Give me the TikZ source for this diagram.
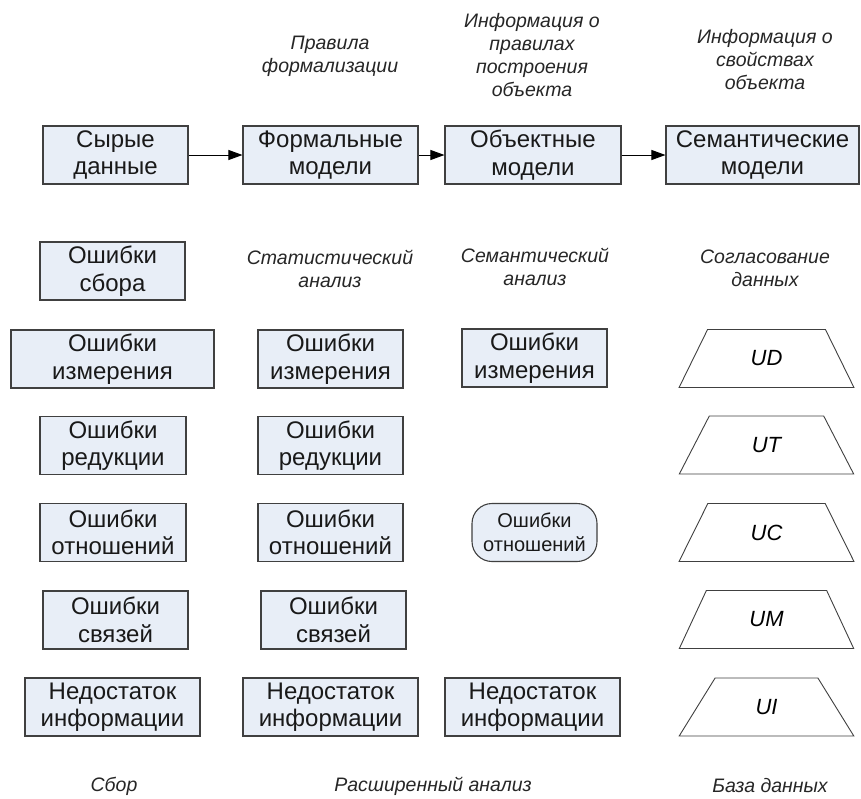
\documentclass[tikz,border=0pt]{standalone}
\usepackage{fontspec}
\setmainfont{Liberation Sans}
\usetikzlibrary{shapes.geometric,arrows.meta}
\definecolor{boxfill}{HTML}{E8EEF7}
\definecolor{boxline}{HTML}{404040}
\tikzset{
  blk/.style={draw=boxline, line width=1.1pt, fill=boxfill, rectangle, minimum height=58pt, inner sep=0pt, align=center, font=\fontsize{24}{27.5}\selectfont, text=black!90},
  rblk/.style={blk, rounded corners=20pt, font=\fontsize{20}{24}\selectfont},
  trap/.style={draw=boxline, line width=0.9pt, fill=white, trapezium, trapezium stretches=true, trapezium left angle=63.4, trapezium right angle=63.4, minimum width=175pt, minimum height=58pt, inner sep=0pt, font=\itshape\fontsize{22}{26}\selectfont},
  lbl/.style={align=center, inner sep=0pt, font=\itshape\fontsize{19.5}{23}\selectfont, text=black!85},
  arr/.style={draw=black, line width=0.9pt, -{Triangle[length=14pt,width=10pt]}}
}
\begin{document}
\begin{tikzpicture}[x=1pt,y=-1pt]
\useasboundingbox (0,0) rectangle (861,798);
% top row
\node[blk, minimum width=145pt] (raw) at (115.5,155) {Сырые\\данные};
\node[blk, minimum width=175pt] (formal) at (330.5,155) {Формальные\\модели};
\node[blk, minimum width=176pt] (obj) at (533,155) {Объектные\\модели};
\node[blk, minimum width=193pt] (sem) at (762.5,155) {Семантические\\модели};
\draw[arr] (raw) -- (formal);
\draw[arr] (formal) -- (obj);
\draw[arr] (obj) -- (sem);
% top labels
\node[lbl] (l1) at (330,56.5) {Правила\\формализации};
\node[lbl] (l2) at (532,55) {Информация о\\правилах\\построения\\объекта};
\node[lbl] (l3) at (765,60) {Информация о\\свойствах\\объекта};
% row 2
\node[blk, minimum width=145pt] (ecoll) at (112.5,271) {Ошибки\\сбора};
\node[lbl] (stat) at (330,268.5) {Статистический\\анализ};
\node[lbl] (sema) at (535,266.5) {Семантический\\анализ};
\node[lbl] (agree) at (765,268.5) {Согласование\\данных};
% measurement
\node[blk, minimum width=203pt] (meas1) at (112.5,359) {Ошибки\\измерения};
\node[blk, minimum width=145pt] (meas2) at (330.5,359) {Ошибки\\измерения};
\node[blk, minimum width=145pt] (meas3) at (534.5,358) {Ошибки\\измерения};
% reduction
\node[blk, minimum width=146pt] (red1) at (113,445.5) {Ошибки\\редукции};
\node[blk, minimum width=145pt] (red2) at (330.5,445.5) {Ошибки\\редукции};
% relations
\node[blk, minimum width=146pt] (rel1) at (113,532.5) {Ошибки\\отношений};
\node[blk, minimum width=145pt] (rel2) at (330.5,532.5) {Ошибки\\отношений};
\node[rblk, minimum width=125pt] (rel3) at (534.5,532.5) {Ошибки\\отношений};
% links
\node[blk, minimum width=145pt] (lnk1) at (115.5,620) {Ошибки\\связей};
\node[blk, minimum width=145pt] (lnk2) at (333.5,620) {Ошибки\\связей};
% lack
\node[blk, minimum width=175pt] (lack1) at (112.5,707) {Недостаток\\информации};
\node[blk, minimum width=175pt] (lack2) at (330.5,707) {Недостаток\\информации};
\node[blk, minimum width=175pt] (lack3) at (532.5,707) {Недостаток\\информации};
% database
\node[trap] (ud) at (766.5,358.5) {UD};
\node[trap] (ut) at (766.5,445) {UT};
\node[trap] (uc) at (766.5,532.5) {UC};
\node[trap] (um) at (766.5,619.5) {UM};
\node[trap] (ui) at (766.5,707) {UI};
% bottom labels
\node[lbl] (b1) at (114,786) {Сбор};
\node[lbl] (b2) at (433,786) {Расширенный анализ};
\node[lbl] (b3) at (770,786) {База данных};
\end{tikzpicture}
\end{document}
